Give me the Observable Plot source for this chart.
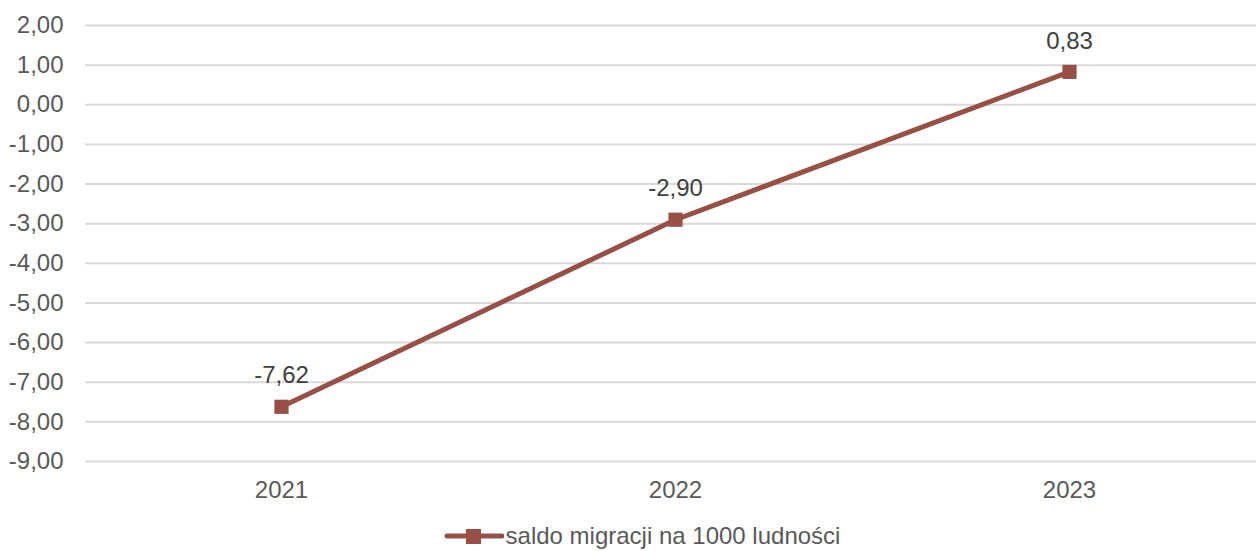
<!DOCTYPE html>
<html>
<head>
<meta charset="utf-8">
<script src="https://cdn.jsdelivr.net/npm/d3@7"></script>
<script src="https://cdn.jsdelivr.net/npm/@observablehq/plot@0.6"></script>
<style>
  html, body { margin: 0; padding: 0; background: #fff; overflow: hidden; }
  #chart { width: 1256px; height: 551px; position: relative; font-family: "Liberation Sans", Arial, sans-serif; }
  #legend { position: absolute; left: 14px; top: 523px; width: 1256px; display: flex; justify-content: center; align-items: center; color: #595959; font-size: 24px; line-height: 26px; }
  #legend svg { margin-right: 2px; }
</style>
</head>
<body>
<div id="chart"></div>
<script>
const years = ["2021", "2022", "2023"];
const values = [-7.62, -2.90, 0.83];
const yTicks = [2, 1, 0, -1, -2, -3, -4, -5, -6, -7, -8, -9];
const seriesName = "saldo migracji na 1000 ludności";

const data = years.map((y, i) => ({year: y, value: values[i]}));
const fmt = v => v.toFixed(2).replace(".", ",");
const color = "#984F46";
const textColor = "#595959";

const plot = Plot.plot({
  width: 1256,
  height: 520,
  marginTop: 25,
  marginBottom: 59,
  marginLeft: 85,
  marginRight: 0,
  style: {fontFamily: "'Liberation Sans', Arial, sans-serif", fontSize: "24px", color: textColor, background: "#fff"},
  x: {type: "point", domain: years, range: [84, 1266], padding: 0.5, label: null},
  y: {domain: [-9, 2], label: null},
  marks: [
    Plot.ruleY(yTicks, {stroke: "#D9D9D9", strokeWidth: 2}),
    Plot.axisY({ticks: yTicks, tickFormat: fmt, tickSize: 0, tickPadding: 22, label: null, fill: textColor, fontSize: 24}),
    Plot.axisX({tickSize: 0, tickPadding: 19, label: null, fill: textColor, fontSize: 24}),
    Plot.line(data, {x: "year", y: "value", stroke: color, strokeWidth: 5}),
    Plot.dot(data, {x: "year", y: "value", symbol: "square", r: 8, fill: color, stroke: "none"}),
    Plot.text(data, {x: "year", y: "value", text: d => fmt(d.value), dy: -31, fill: "#404040", fontSize: 24})
  ]
});
document.getElementById("chart").appendChild(plot);

const legend = document.createElement("div");
legend.id = "legend";
legend.innerHTML = `<svg width="60" height="20"><line x1="3" x2="58" y1="10" y2="10" stroke="${color}" stroke-width="5" stroke-linecap="round"/><rect x="22" y="3" width="15" height="15" fill="${color}"/></svg><span>${seriesName}</span>`;
document.getElementById("chart").appendChild(legend);
</script>
</body>
</html>
